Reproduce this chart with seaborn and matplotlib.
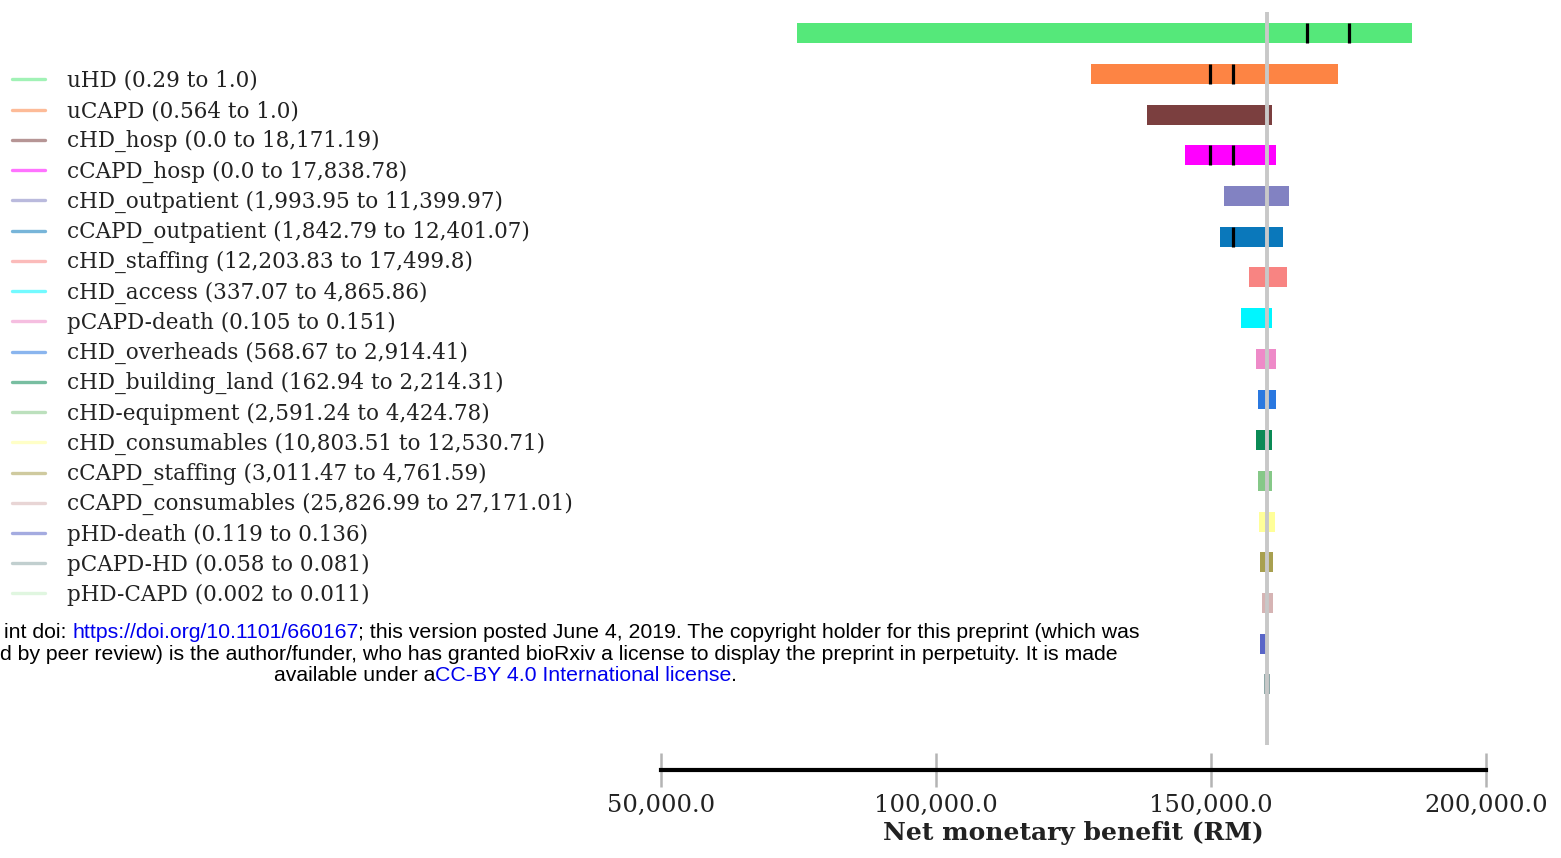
import matplotlib
matplotlib.use("Agg")
from matplotlib import pyplot as plt
from matplotlib.lines import Line2D
from matplotlib.ticker import StrMethodFormatter
import pandas as pd
import seaborn as sns

# Tornado diagram - net monetary benefit, one-way sensitivity
params = ["uHD", "uCAPD", "cHD_hosp", "cCAPD_hosp", "cHD_outpatient",
          "cCAPD_outpatient", "cHD_staffing", "cHD_access", "pCAPD-death",
          "cHD_overheads", "cHD_building_land", "cHD-equipment",
          "cHD_consumables", "cCAPD_staffing", "cCAPD_consumables",
          "pHD-death", "pCAPD-HD", "pHD-CAPD"]
param_ranges = ["0.29 to 1.0", "0.564 to 1.0", "0.0 to 18,171.19",
                "0.0 to 17,838.78", "1,993.95 to 11,399.97",
                "1,842.79 to 12,401.07", "12,203.83 to 17,499.8",
                "337.07 to 4,865.86", "0.105 to 0.151", "568.67 to 2,914.41",
                "162.94 to 2,214.31", "2,591.24 to 4,424.78",
                "10,803.51 to 12,530.71", "3,011.47 to 4,761.59",
                "25,826.99 to 27,171.01", "0.119 to 0.136", "0.058 to 0.081",
                "0.002 to 0.011"]
nmb_low = [74700, 128200, 138400, 145200, 152450, 151550, 156900, 155450,
           158200, 158500, 158200, 158550, 158750, 158900, 159300, 158900,
           159650, 160000]
nmb_high = [186500, 173100, 161100, 161800, 164200, 163000, 163750, 161100,
            161750, 161750, 161050, 161050, 161650, 161250, 161250, 160200,
            160750, 160350]
base_nmb = 160200

# black markers inside some bars
mark_param = ["uHD", "uHD", "uCAPD", "uCAPD", "cCAPD_hosp", "cCAPD_hosp",
              "cCAPD_outpatient"]
mark_nmb = [167400, 175100, 149800, 154000, 149800, 154000, 154000]

x_ticks = [50000, 100000, 150000, 200000]

bar_colors = ["#55e87a", "#fd8444", "#7b3f3f", "#ff00ff", "#8282c2",
              "#0a78bb", "#f88482", "#00f6ff", "#ee8ac8", "#2a78e0",
              "#0a8a55", "#86c888", "#ffff99", "#a8a050", "#d6b4b4",
              "#5a66c8", "#8fa8a8", "#c8f0c8"]

df = pd.DataFrame({"param": params, "low": nmb_low, "high": nmb_high})
df["span"] = df["high"] - df["low"]

sns.set_theme(style="white")
plt.rcParams["font.family"] = ["DejaVu Serif"]

fig = plt.figure(figsize=(15.61, 8.58), dpi=100)
W, H = 1561, 858
ax = fig.add_axes([661 / W, 1 - 745 / H, (1486 - 661) / W, (745 - 12) / H])

sns.barplot(data=df, x="span", y="param", hue="param", palette=bar_colors,
            legend=False, width=0.49, saturation=1, orient="h", ax=ax,
            linewidth=0)
for patch, lo in zip(ax.patches, df["low"]):
    patch.set_x(lo)

ypos = [params.index(p) for p in mark_param]
ax.plot(mark_nmb, ypos, ls="none", marker="|", ms=14.4, mew=2.3,
        color="black", zorder=4)
ax.axvline(base_nmb, color="#c8c8c8", lw=2.8, zorder=5)

ax.set_xlim(50000, 200000)
ax.set_ylim(17.49, -0.523)
ax.set_yticks([])
ax.set_ylabel("")
ax.set_xticks(x_ticks)
ax.xaxis.set_major_formatter(StrMethodFormatter("{x:,.1f}"))
ax.tick_params(axis="x", bottom=True, direction="inout", length=25,
               width=1.8, color="#b4b4b4", pad=4.5, labelsize=17.5,
               labelcolor="#222222")
sns.despine(ax=ax, left=True, offset={"bottom": 18})
ax.spines["bottom"].set_color("black")
ax.spines["bottom"].set_linewidth(3)
ax.set_xlabel("Net monetary benefit (RM)", fontsize=18, fontweight="bold",
              labelpad=3.5, color="#222222")

handles = [Line2D([], [], color=c, lw=2.4, alpha=0.55) for c in bar_colors]
labels = [f"{p} ({r})" for p, r in zip(params, param_ranges)]
fig.legend(handles, labels, loc="upper left",
           bbox_to_anchor=(12 / W, 1 - 70 / H), frameon=False, fontsize=15.5,
           handlelength=1.53, handletextpad=1.02, labelspacing=0.374,
           borderpad=0, borderaxespad=0, labelcolor="#222222")

# preprint notice overlaid on the figure
renderer = fig.canvas.get_renderer()


def draw_line(pieces, y_px, x_px, align):
    kw = dict(family="Liberation Sans", fontsize=15.3, va="baseline")
    widths = []
    for txt, col in pieces:
        t = fig.text(0, 0, txt, **kw)
        widths.append(t.get_window_extent(renderer).width)
        t.remove()
    total = sum(widths)
    if align == "right":
        x0 = x_px - total
    else:
        x0 = x_px - total / 2
    for (txt, col), w in zip(pieces, widths):
        fig.text(x0 / W, 1 - y_px / H, txt, color=col, **kw)
        x0 += w


blue = "#0000ee"
draw_line([("int doi: ", "black"), ("https://doi.org/10.1101/660167", blue),
           ("; this version posted June 4, 2019. The copyright holder for "
            "this preprint (which was", "black")], 638, 1140, "right")
draw_line([("d by peer review) is the author/funder, who has granted bioRxiv "
            "a license to display the preprint in perpetuity. It is made",
            "black")], 660, 1118, "right")
draw_line([("available under a", "black"),
           ("CC-BY 4.0 International license", blue), (".", "black")],
          681, 505.5, "center")

fig.savefig("out.png", dpi=100)
